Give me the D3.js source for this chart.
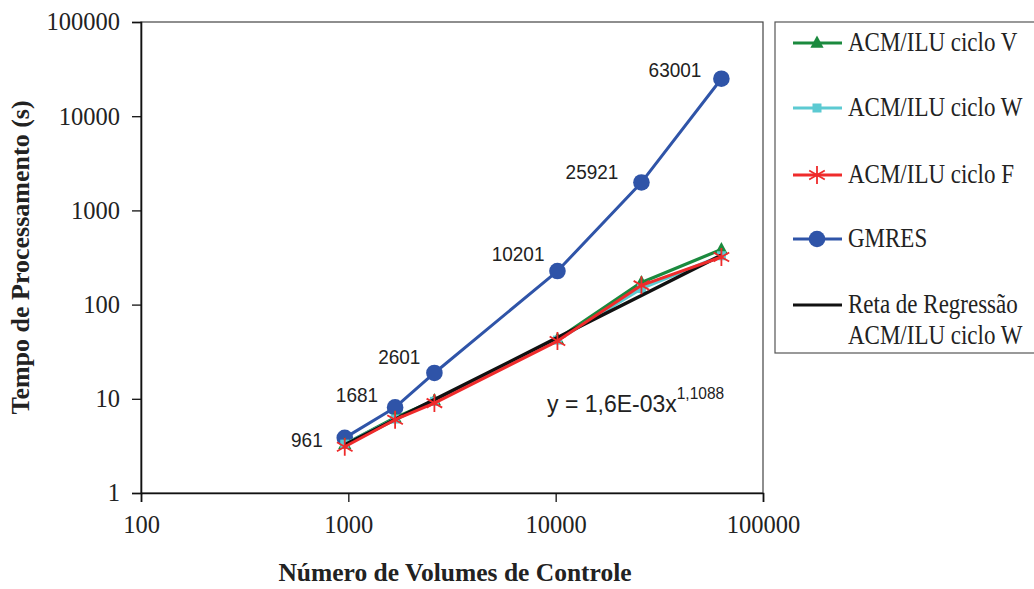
<!DOCTYPE html>
<html><head><meta charset="utf-8">
<script src="https://cdn.jsdelivr.net/npm/d3@7"></script>
<style>body{margin:0;background:#fff}svg{display:block}</style>
</head><body><svg id="c" width="1034" height="589"></svg>
<script>
const volumes = [961, 1681, 2601, 10201, 25921, 63001];
const cicloV = [3.3, 6.3, 9.6, 43, 172, 385];
const cicloW = [3.3, 6.1, 9.4, 42, 148, 330];
const cicloF = [3.1, 6.0, 9.0, 41, 160, 320];
const gmres = [3.85, 8.1, 18.8, 227, 1980, 25000];
const regressao = [3.25, 6.05, 9.8, 44.6, 125, 335];
const pointLabels = ["961", "1681", "2601", "10201", "25921", "63001"];
const xTicks = [100, 1000, 10000, 100000];
const yTicks = [1, 10, 100, 1000, 10000, 100000];
const legendNames = ["ACM/ILU ciclo V", "ACM/ILU ciclo W", "ACM/ILU ciclo F", "GMRES", "Reta de Regressão", "ACM/ILU ciclo W"];

const svg = d3.select("#c");
const L = 141, R = 763, T = 22, B = 493;
const x = d3.scaleLog().domain([100, 100000]).range([L, R]);
const y = d3.scaleLog().domain([1, 100000]).range([B, T]);
const serif = "'Liberation Serif','Times New Roman',serif";
const sans = "'Liberation Sans',Arial,sans-serif";

// frame
svg.append("rect").attr("x", L).attr("y", T).attr("width", R - L).attr("height", B - T)
  .attr("fill", "none").attr("stroke", "#444").attr("stroke-width", 1.2);

const ax = svg.append("g").attr("transform", `translate(0,${B})`)
  .call(d3.axisBottom(x).tickValues(xTicks).tickSize(9).tickPadding(14).tickFormat(d3.format("d")));
const ay = svg.append("g").attr("transform", `translate(${L},0)`)
  .call(d3.axisLeft(y).tickValues(yTicks).tickSize(9).tickPadding(12).tickFormat(d3.format("d")));
[ax, ay].forEach(g => {
  g.select(".domain").attr("stroke", "#111").attr("stroke-width", 1.6);
  g.selectAll(".tick line").attr("stroke", "#111").attr("stroke-width", 1.3);
  g.selectAll("text").attr("font-family", serif).attr("font-size", 24.5).attr("fill", "#222");
});
ax.selectAll("text").attr("dy", "0.71em");

svg.append("text").attr("x", (L + R) / 2 + 3).attr("y", 581).attr("text-anchor", "middle")
  .attr("font-family", serif).attr("font-weight", "bold").attr("font-size", 25.5).attr("fill", "#222")
  .text("Número de Volumes de Controle");
svg.append("text").attr("transform", `translate(29,${(T + B) / 2}) rotate(-90)`).attr("text-anchor", "middle")
  .attr("font-family", serif).attr("font-weight", "bold").attr("font-size", 26).attr("fill", "#222")
  .text("Tempo de Processamento (s)");

const line = d3.line().x(d => x(d[0])).y(d => y(d[1]));
const pts = arr => volumes.map((v, i) => [v, arr[i]]);

const colors = { V: "#1b8a3e", W: "#5ccad2", F: "#ef2b2b", G: "#2f54a8", K: "#111" };

function drawLine(arr, color, w) {
  svg.append("path").datum(pts(arr)).attr("d", line).attr("fill", "none")
    .attr("stroke", color).attr("stroke-width", w).attr("stroke-linejoin", "round");
}
function tri(g, cx, cy, s, color) {
  g.append("path").attr("d", `M${cx},${cy - s * 0.62}L${cx + s * 0.55},${cy + s * 0.4}L${cx - s * 0.55},${cy + s * 0.4}Z`).attr("fill", color);
}
function sq(g, cx, cy, s, color) {
  g.append("rect").attr("x", cx - s / 2).attr("y", cy - s / 2).attr("width", s).attr("height", s).attr("fill", color);
}
function star(g, cx, cy, s, color) {
  const p = [];
  for (let k = 0; k < 3; k++) {
    const a = Math.PI / 2 + k * Math.PI / 3;
    p.push(`M${cx + s * Math.cos(a)},${cy + s * Math.sin(a)}L${cx - s * Math.cos(a)},${cy - s * Math.sin(a)}`);
  }
  g.append("path").attr("d", p.join("")).attr("stroke", color).attr("stroke-width", 1.8).attr("fill", "none");
}
function circ(g, cx, cy, r, color) {
  g.append("circle").attr("cx", cx).attr("cy", cy).attr("r", r).attr("fill", color);
}

// GMRES
drawLine(gmres, colors.G, 3);
const mg = svg.append("g");
pts(gmres).forEach(d => circ(mg, x(d[0]), y(d[1]), 8.3, colors.G));
// labels
const lab = svg.append("g").attr("font-family", sans).attr("font-size", 19).attr("fill", "#222").attr("text-anchor", "end");
const offs = [[-22, 9], [-17, -5], [-14, -9], [-13, -10], [-23, -3], [-20, -2]];
pts(gmres).forEach((d, i) => {
  lab.append("text").attr("transform", `translate(${x(d[0]) + offs[i][0]},${y(d[1]) + offs[i][1]}) scale(1,1.1)`).text(pointLabels[i]);
});

// ACM V
drawLine(cicloV, colors.V, 3.2);
const mv = svg.append("g");
pts(cicloV).forEach(d => tri(mv, x(d[0]), y(d[1]), 12, colors.V));
// ACM W
drawLine(cicloW, colors.W, 3.2);
const mw = svg.append("g");
pts(cicloW).forEach(d => sq(mw, x(d[0]), y(d[1]), 9, colors.W));
// regression
drawLine(regressao, colors.K, 3.4);
// ACM F
drawLine(cicloF, colors.F, 3);
const mf = svg.append("g");
pts(cicloF).forEach(d => star(mf, x(d[0]), y(d[1]), 9, colors.F));

// equation
const eq = svg.append("text").attr("transform", "translate(547,412) scale(1,1.05)").attr("font-family", sans).attr("font-size", 23).attr("fill", "#222");
eq.append("tspan").text("y = 1,6E-03x");
eq.append("tspan").attr("font-size", 15.5).attr("dy", -12).text("1,1088");

// legend
svg.append("rect").attr("x", 775).attr("y", 22).attr("width", 300).attr("height", 331)
  .attr("fill", "#fff").attr("stroke", "#555").attr("stroke-width", 1.2);
const lg = svg.append("g");
const rows = [43, 108, 175, 239, 305];
const lcols = [colors.V, colors.W, colors.F, colors.G, colors.K];
const marks = [
  (g, cy) => tri(g, 817, cy, 12, colors.V),
  (g, cy) => sq(g, 817, cy, 9, colors.W),
  (g, cy) => star(g, 817, cy, 9, colors.F),
  (g, cy) => circ(g, 817, cy, 8.3, colors.G),
  () => {}
];
function ltext(ty, s) {
  lg.append("text").attr("transform", `translate(848,${ty + 8}) scale(1,1.15)`).attr("font-family", serif)
    .attr("font-size", 23).attr("fill", "#222").text(s);
}
rows.forEach((ry, i) => {
  lg.append("line").attr("x1", 793).attr("x2", 842).attr("y1", ry).attr("y2", ry)
    .attr("stroke", lcols[i]).attr("stroke-width", 3.2);
  marks[i](lg, ry);
  ltext(ry, legendNames[i]);
});
ltext(336, legendNames[5]);
</script></body></html>
